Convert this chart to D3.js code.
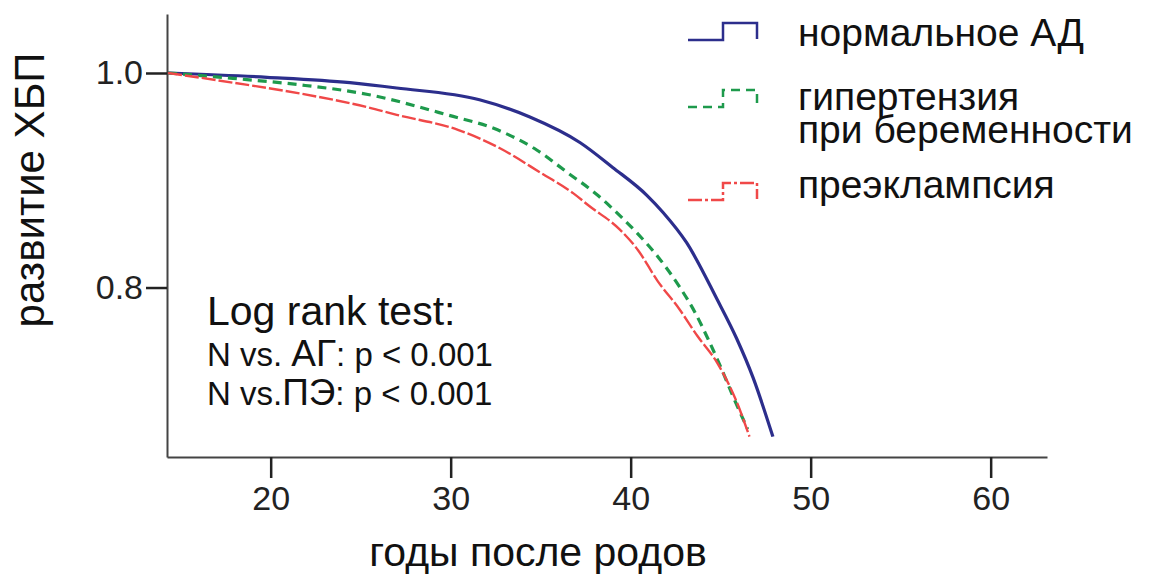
<!DOCTYPE html>
<html>
<head>
<meta charset="utf-8">
<script src="https://cdn.jsdelivr.net/npm/d3@7"></script>
<style>
  body { margin: 0; background: #fff; }
  svg { display: block; font-family: "Liberation Sans", Arial, sans-serif; }
</style>
</head>
<body>
<svg id="chart"></svg>
<script>
// years after delivery / share free of CKD
const normalYears = [14.3, 19.8, 24.4, 27.0, 31.6, 34.4, 37.2, 39.0, 40.9, 41.8, 43.1, 44.8, 45.9, 46.8, 47.9];
const normalSurv  = [1.000, 0.996, 0.991, 0.986, 0.975, 0.959, 0.935, 0.912, 0.886, 0.870, 0.842, 0.789, 0.752, 0.716, 0.661];

const gestYears = [14.3, 17.9, 21.6, 25.4, 29.8, 32.6, 34.8, 36.5, 38.1, 39.4, 40.4, 41.5, 42.7, 43.6, 44.3, 45.0, 45.7, 46.5];
const gestSurv  = [1.000, 0.995, 0.989, 0.980, 0.961, 0.947, 0.928, 0.907, 0.887, 0.867, 0.850, 0.829, 0.801, 0.776, 0.752, 0.726, 0.698, 0.668];

const preYears = [14.3, 17.9, 21.6, 25.4, 27.0, 30.4, 32.6, 35.0, 36.8, 37.7, 39.4, 40.4, 41.5, 42.7, 43.7, 44.8, 45.9, 46.6];
const preSurv  = [1.000, 0.991, 0.981, 0.968, 0.961, 0.947, 0.931, 0.907, 0.888, 0.876, 0.854, 0.835, 0.806, 0.780, 0.755, 0.730, 0.693, 0.661];

const xTicks = [20, 30, 40, 50, 60];
const yTicks = [0.8, 1.0];

const seriesNames = ["нормальное АД", "гипертензия\nпри беременности", "преэклампсия"];

const width = 1153;
const height = 575;

const svg = d3.select("#chart")
  .attr("width", width)
  .attr("height", height);

const x = d3.scaleLinear().domain([14.24, 63.13]).range([167, 1047]);
const y = d3.scaleLinear().domain([0.642, 1.055]).range([457, 14]);

const series = [
  { years: normalYears, surv: normalSurv, color: "#2c2e8c", width: 3.2, dash: null },
  { years: gestYears, surv: gestSurv, color: "#1e9a4c", width: 3.2, dash: "9,6" },
  { years: preYears, surv: preSurv, color: "#f04848", width: 2.4, dash: "14,3" }
];

const line = d3.line()
  .x(d => x(d[0]))
  .y(d => y(d[1]))
  .curve(d3.curveMonotoneX);

// axes
const xAxis = svg.append("g")
  .attr("transform", `translate(0,${y.range()[0]})`)
  .call(d3.axisBottom(x).tickValues(xTicks).tickSize(21).tickPadding(8).tickSizeOuter(0));

const yAxis = svg.append("g")
  .attr("transform", `translate(${x.range()[0]},0)`)
  .call(d3.axisLeft(y).tickValues(yTicks).tickSize(21).tickPadding(3).tickFormat(d3.format(".1f")).tickSizeOuter(0));

[xAxis, yAxis].forEach(a => {
  a.select(".domain").attr("stroke", "#444").attr("stroke-width", 2);
  a.selectAll(".tick line").attr("stroke", "#222").attr("stroke-width", 2.5);
  a.selectAll(".tick text").attr("fill", "#222").style("font-size", "34px");
});

// curves
series.forEach(s => {
  svg.append("path")
    .datum(s.years.map((v, i) => [v, s.surv[i]]))
    .attr("fill", "none")
    .attr("stroke", s.color)
    .attr("stroke-width", s.width)
    .attr("stroke-dasharray", s.dash)
    .attr("d", line);
});

// axis titles
svg.append("text")
  .attr("x", 538)
  .attr("y", 566)
  .attr("text-anchor", "middle")
  .style("font-size", "41px")
  .attr("fill", "#111")
  .text("годы после родов");

svg.append("text")
  .attr("transform", "translate(44,190) rotate(-90)")
  .attr("text-anchor", "middle")
  .style("font-size", "42px")
  .attr("fill", "#111")
  .text("развитие ХБП");

// legend
const legendRows = [
  { y: 40, text: [46], color: series[0].color, dash: null },
  { y: 107, text: [110, 143], color: series[1].color, dash: "9,6" },
  { y: 200, text: [198], color: series[2].color, dash: "14,3,3,3" }
];

legendRows.forEach((r, i) => {
  const sym = [[688, r.y], [723, r.y], [723, r.y - 17], [757, r.y - 17], [757, r.y - 1]];
  svg.append("path")
    .attr("d", d3.line()(sym))
    .attr("fill", "none")
    .attr("stroke", r.color)
    .attr("stroke-width", 2.5)
    .attr("stroke-dasharray", r.dash);
  seriesNames[i].split("\n").forEach((t, j) => {
    svg.append("text")
      .attr("x", 798)
      .attr("y", r.text[j])
      .style("font-size", "39px")
      .attr("fill", "#111")
      .text(t);
  });
});

// log rank annotation
svg.append("text")
  .attr("x", 207)
  .attr("y", 325)
  .style("font-size", "41px")
  .attr("fill", "#111")
  .text("Log rank test:");

const testLines = [
  { y: 366, parts: ["N vs. ", "АГ", ": p < 0.001"] },
  { y: 405, parts: ["N vs.", "ПЭ", ": p < 0.001"] }
];

testLines.forEach(l => {
  const t = svg.append("text")
    .attr("x", 207)
    .attr("y", l.y)
    .attr("fill", "#111");
  l.parts.forEach((p, k) => {
    t.append("tspan")
      .style("font-size", k === 1 ? "37px" : "33px")
      .text(p);
  });
});
</script>
</body>
</html>
